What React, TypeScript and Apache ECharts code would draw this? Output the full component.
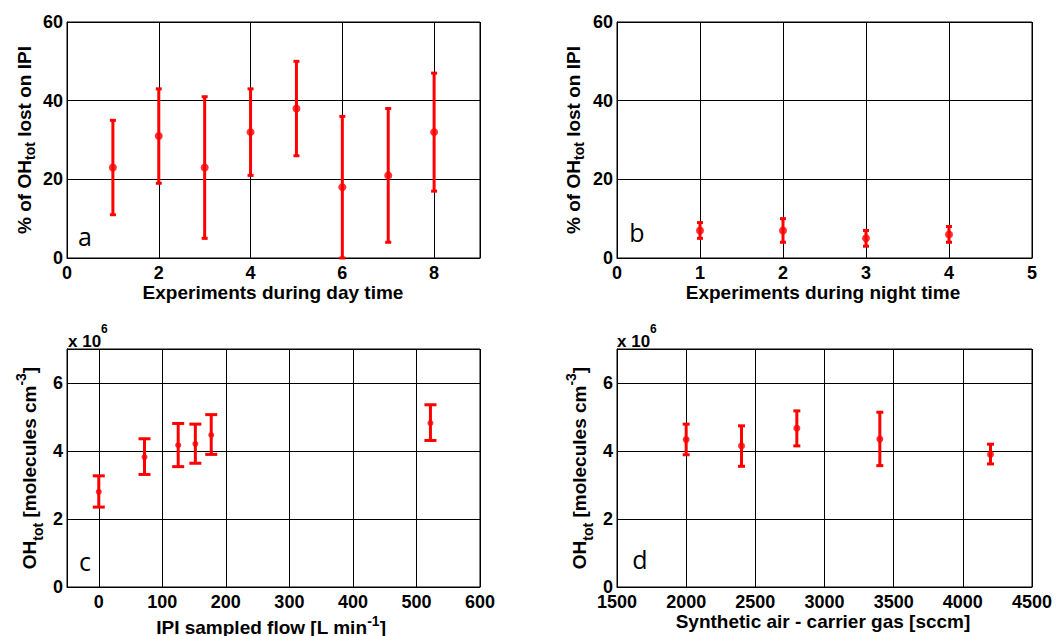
import React, { useEffect, useRef } from "react";
import * as echarts from "echarts";

// ---- Panel a: day time experiments ----
const dayExperiments = [1, 2, 3, 4, 5, 6, 7, 8];
const dayLoss = [23, 31, 23, 32, 38, 18, 21, 32];
const dayLow = [11, 19, 5, 21, 26, 0, 4, 17];
const dayHigh = [35, 43, 41, 43, 50, 36, 38, 47];

// ---- Panel b: night time experiments ----
const nightExperiments = [1, 2, 3, 4];
const nightLoss = [7, 7, 5, 6];
const nightLow = [5, 4, 3, 4];
const nightHigh = [9, 10, 7, 8];

// ---- Panel c: IPI sampled flow (OH in 1e6 molecules cm-3) ----
const ipiFlow = [0, 72, 125, 152, 177, 522];
const ohFlow = [2.8, 3.82, 4.17, 4.21, 4.47, 4.82];
const ohFlowLow = [2.35, 3.31, 3.54, 3.64, 3.9, 4.31];
const ohFlowHigh = [3.27, 4.36, 4.81, 4.79, 5.07, 5.36];

// ---- Panel d: synthetic air carrier gas ----
const carrierGas = [2000, 2400, 2800, 3400, 4200];
const ohGas = [4.34, 4.15, 4.67, 4.35, 3.9];
const ohGasLow = [3.89, 3.55, 4.15, 3.57, 3.62];
const ohGasHigh = [4.79, 4.74, 5.18, 5.14, 4.2];

const FONT = "'Liberation Sans', Arial, sans-serif";
const LETTER_FONT = "'Open Sans', 'Noto Sans', sans-serif";
const RED = "#ff0000";

const grids = [
  { left: 67, top: 22, width: 413, height: 236 },
  { left: 617, top: 22, width: 415, height: 236 },
  { left: 67, top: 349, width: 413, height: 238 },
  { left: 617, top: 349, width: 415, height: 238 },
];

function axis(gridIndex: number, extra: any, labelExtra: any = {}) {
  return {
    type: "value",
    gridIndex,
    axisLine: { show: true, onZero: false, lineStyle: { color: "#000", width: 1 } },
    axisTick: { show: false },
    splitLine: { show: true, lineStyle: { color: "#000", width: 1 } },
    axisLabel: {
      color: "#000",
      fontSize: 18,
      lineHeight: 14,
      fontWeight: "bold",
      fontFamily: FONT,
      formatter: (v: number) => String(v),
      ...labelExtra,
    },
    ...extra,
  };
}

function errorSeries(idx: number, xs: number[], lo: number[], hi: number[], capHalf: number) {
  return {
    type: "custom",
    xAxisIndex: idx,
    yAxisIndex: idx,
    z: 3,
    encode: { x: 0, y: [1, 2] },
    data: xs.map((x, i) => [x, lo[i], hi[i]]),
    renderItem: (params: any, api: any) => {
      const x = api.value(0);
      const pHi = api.coord([x, api.value(2)]);
      const pLo = api.coord([x, api.value(1)]);
      const style = { stroke: RED, lineWidth: 3, fill: "none" };
      return {
        type: "group",
        children: [
          { type: "line", shape: { x1: pHi[0], y1: pHi[1], x2: pLo[0], y2: pLo[1] }, style },
          { type: "line", shape: { x1: pHi[0] - capHalf, y1: pHi[1], x2: pHi[0] + capHalf, y2: pHi[1] }, style },
          { type: "line", shape: { x1: pLo[0] - capHalf, y1: pLo[1], x2: pLo[0] + capHalf, y2: pLo[1] }, style },
        ],
      };
    },
  };
}

function pointSeries(idx: number, xs: number[], ys: number[], size: number) {
  return {
    type: "scatter",
    xAxisIndex: idx,
    yAxisIndex: idx,
    z: 4,
    symbol: "circle",
    symbolSize: size,
    itemStyle: { color: RED },
    data: xs.map((x, i) => [x, ys[i]]),
  };
}

const mainText = { fontSize: 19, fontWeight: "bold", fontFamily: FONT, fill: "#000" };
const subRich = { fontSize: 14, fontWeight: "bold", fontFamily: FONT, lineHeight: 14, verticalAlign: "bottom", fill: "#000" };
const supRich = { fontSize: 14, fontWeight: "bold", fontFamily: FONT, lineHeight: 12, verticalAlign: "top", fill: "#000" };

function title(x: number, y: number, text: string, rotated: boolean, lineHeight: number, rich: any = {}) {
  return {
    type: "text",
    x,
    y,
    rotation: rotated ? Math.PI / 2 : 0,
    z: 10,
    style: {
      ...mainText,
      text,
      lineHeight,
      align: "center",
      verticalAlign: "middle",
      rich,
    },
  };
}

function letter(x: number, y: number, text: string) {
  return {
    type: "text",
    x,
    y,
    z: 10,
    style: {
      text,
      fontSize: 25,
      fontFamily: LETTER_FONT,
      fill: "#000",
      align: "center",
      verticalAlign: "middle",
    },
  };
}

function multiplier(x: number, y: number) {
  return {
    type: "text",
    x,
    y,
    z: 10,
    style: {
      text: "x 10{sup|6}",
      fontSize: 17,
      fontWeight: "bold",
      fontFamily: FONT,
      fill: "#000",
      lineHeight: 36,
      align: "left",
      verticalAlign: "middle",
      rich: { sup: { ...supRich, fontSize: 12 } },
    },
  };
}

export default function App() {
  const ref = useRef<HTMLDivElement>(null);
  useEffect(() => {
    if (!ref.current) return;
    const chart = echarts.init(ref.current, undefined, { renderer: "svg" });
    const option: any = {
      animation: false,
      backgroundColor: "#fff",
      grid: grids.map((g) => ({ ...g, show: true, borderColor: "#000", borderWidth: 1, backgroundColor: "#fff" })),
      xAxis: [
        axis(0, { min: 0, max: 9, interval: 2 }, { margin: 8, showMaxLabel: false }),
        axis(1, { min: 0, max: 5, interval: 1 }, { margin: 8 }),
        axis(2, { min: -50, max: 600 }, { margin: 8, showMinLabel: false }),
        axis(3, { min: 1500, max: 4500, interval: 500 }, { margin: 8 }),
      ],
      yAxis: [
        axis(0, { min: 0, max: 60, interval: 20 }, { margin: 4 }),
        axis(1, { min: 0, max: 60, interval: 20 }, { margin: 4 }),
        axis(2, { min: 0, max: 7, interval: 2 }, { margin: 4, showMaxLabel: false }),
        axis(3, { min: 0, max: 7, interval: 2 }, { margin: 4, showMaxLabel: false }),
      ],
      series: [
        errorSeries(0, dayExperiments, dayLow, dayHigh, 3),
        pointSeries(0, dayExperiments, dayLoss, 8),
        errorSeries(1, nightExperiments, nightLow, nightHigh, 3),
        pointSeries(1, nightExperiments, nightLoss, 8),
        errorSeries(2, ipiFlow, ohFlowLow, ohFlowHigh, 6),
        pointSeries(2, ipiFlow, ohFlow, 6),
        errorSeries(3, carrierGas, ohGasLow, ohGasHigh, 3.5),
        pointSeries(3, carrierGas, ohGas, 7),
      ],
      graphic: [
        { type: "rect", z: 1, shape: { x: 72, y: 535, width: 27, height: 47 }, style: { fill: "#fff" } },
        title(24, 140, "% of OH{sub|tot} lost on IPI", true, 26, { sub: subRich }),
        title(573, 140, "% of OH{sub|tot} lost on IPI", true, 26, { sub: subRich }),
        title(29, 468, "OH{sub|tot} [molecules cm{sup|-3}]", true, 31, {
          sub: { ...subRich, lineHeight: 15 },
          sup: supRich,
        }),
        title(579, 468, "OH{sub|tot} [molecules cm{sup|-3}]", true, 31, {
          sub: { ...subRich, lineHeight: 15 },
          sup: supRich,
        }),
        title(273, 292, "Experiments during day time", false, 16),
        title(823, 292, "Experiments during night time", false, 16),
        title(271, 627, "IPI sampled flow [L min{sup|-1}]", false, 26, { sup: supRich }),
        title(823, 621, "Synthetic air - carrier gas [sccm]", false, 16),
        multiplier(68, 341),
        multiplier(617, 341),
        letter(85, 236, "a"),
        letter(637, 232, "b"),
        letter(85, 561, "c"),
        letter(640, 559, "d"),
      ],
    };
    chart.setOption(option);
    return () => chart.dispose();
  }, []);
  return (
    <div
      ref={ref}
      style={{ position: "fixed", left: 0, top: 0, width: 1057, height: 636, background: "#fff" }}
    />
  );
}
